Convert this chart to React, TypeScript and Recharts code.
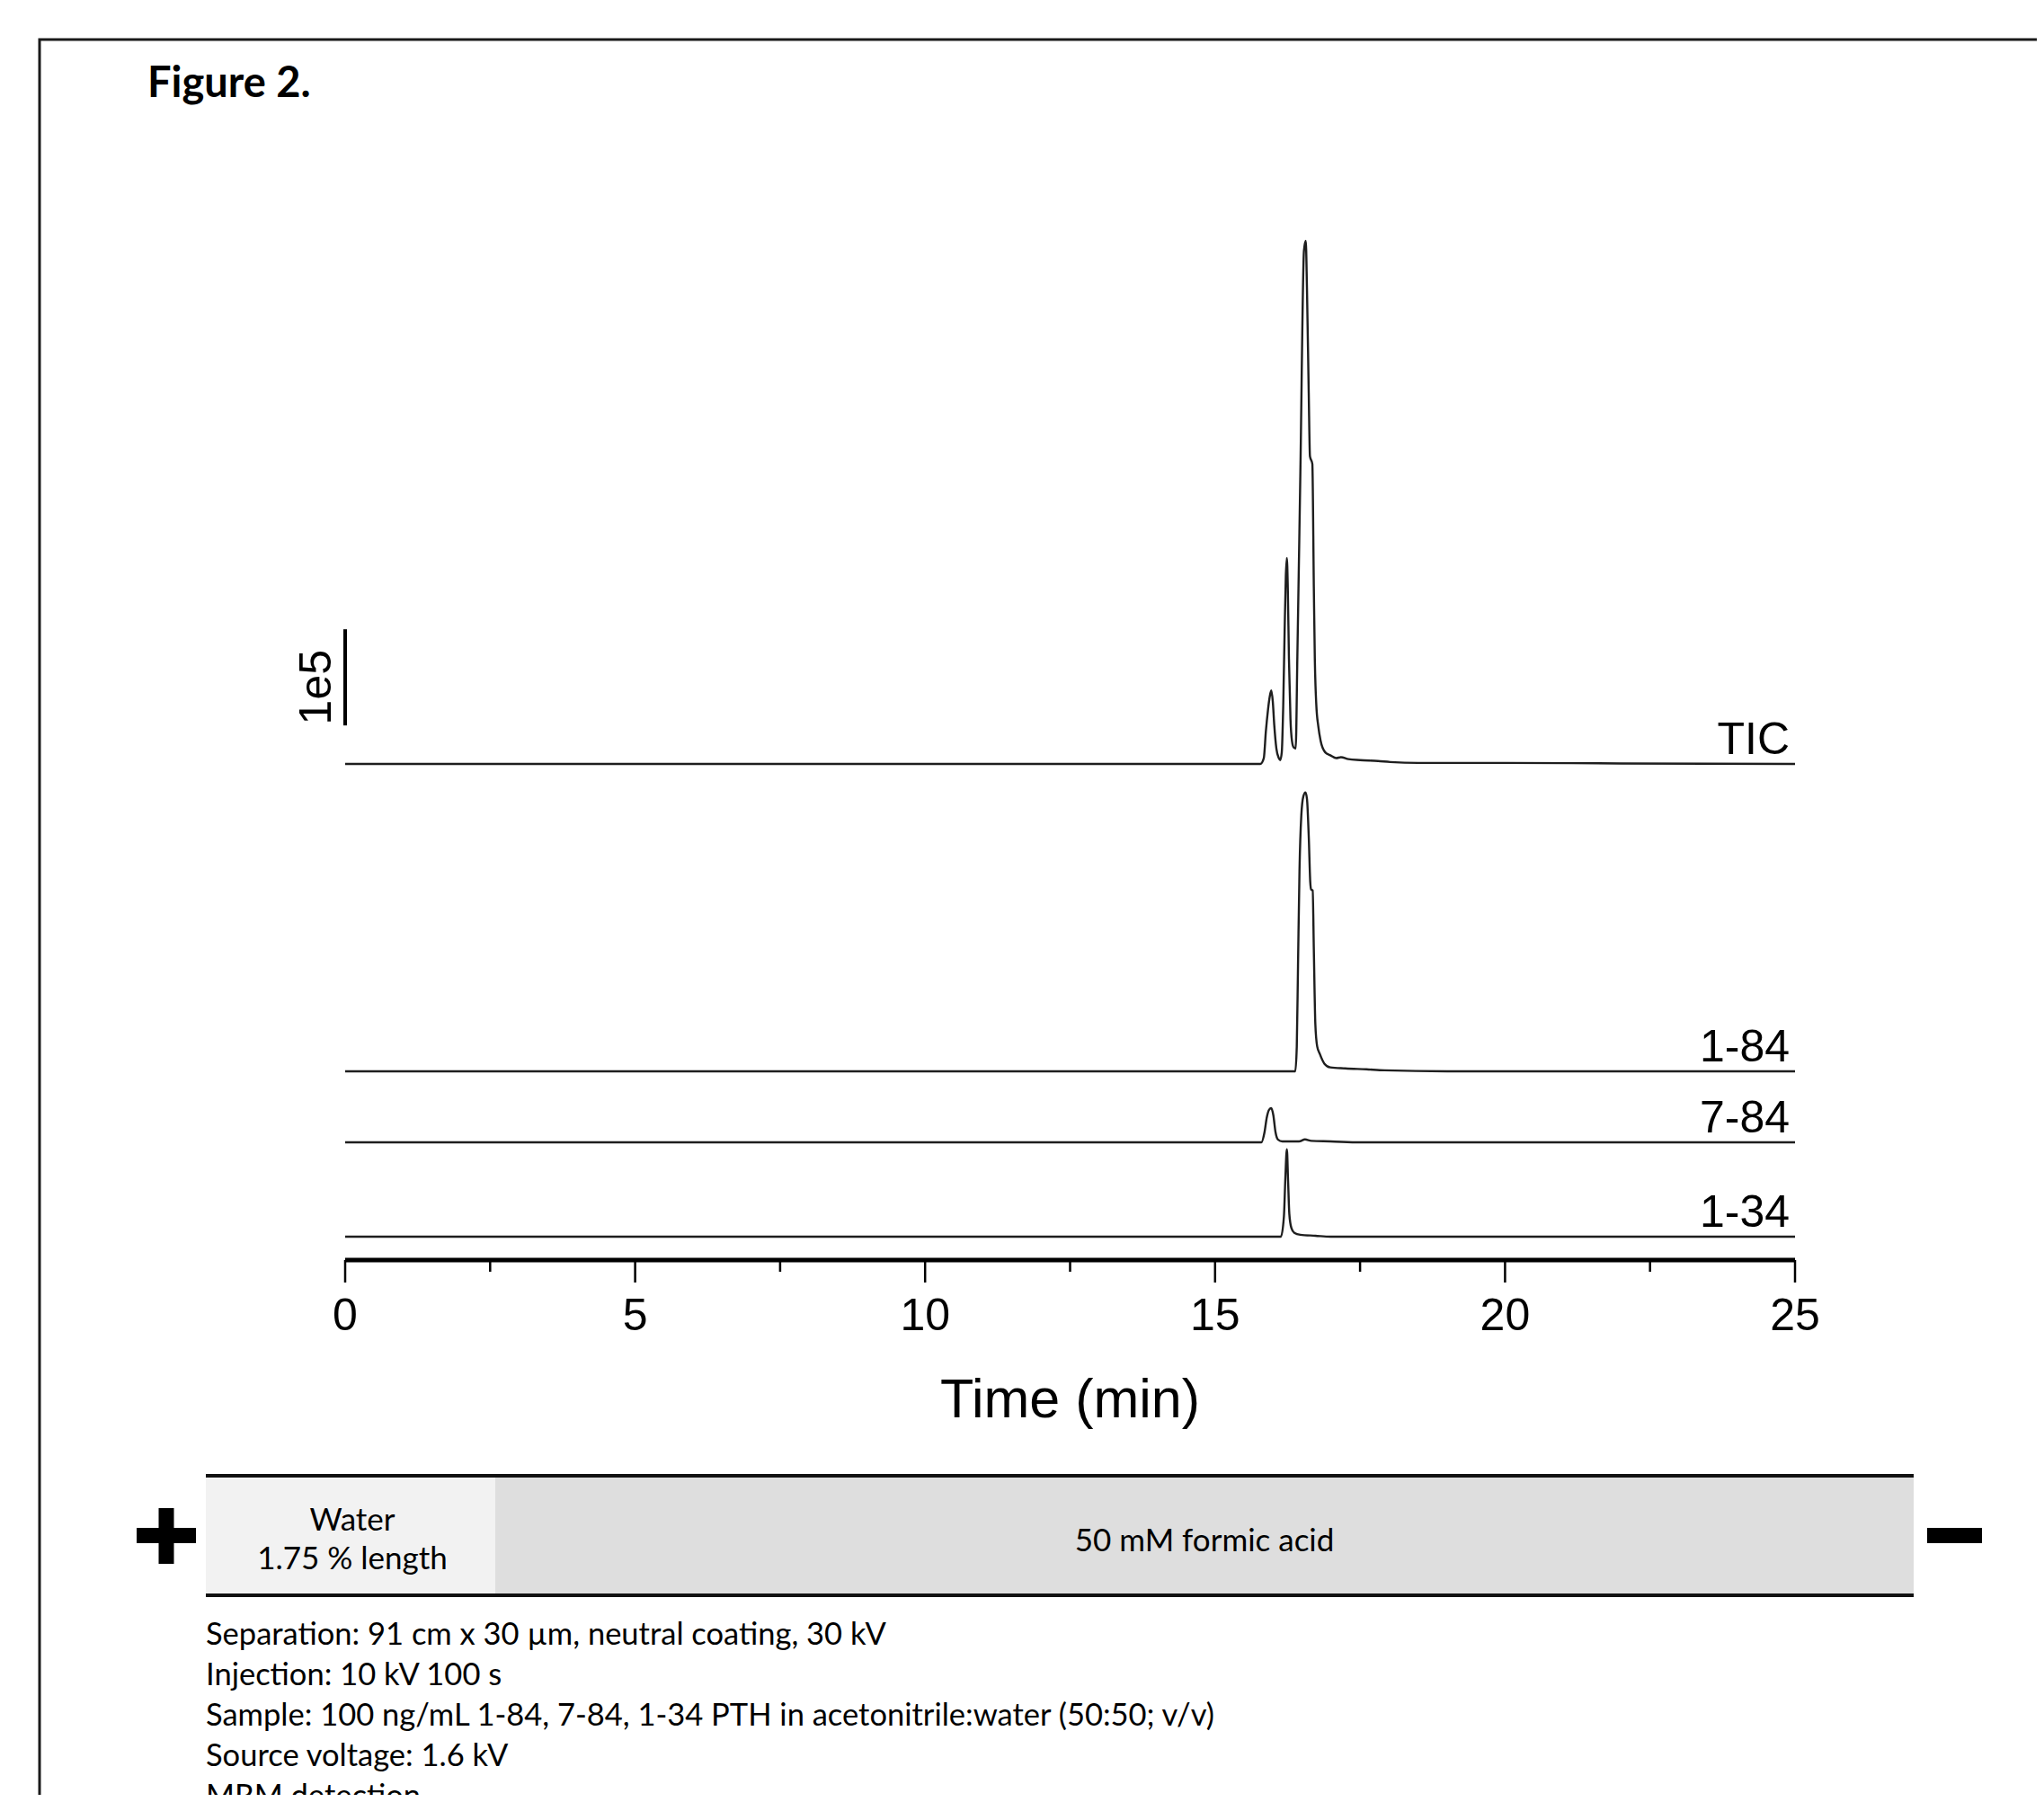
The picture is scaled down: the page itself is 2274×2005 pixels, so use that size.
import { LineChart, Line, XAxis, YAxis, ReferenceLine, Label } from "recharts";

// time (min), intensity (x1e5 counts)
const ticTrace: [number, number][] = [
  [0, 0], [15.78, 0], [15.84, 0.06], [15.876, 0.34], [15.912, 0.56], [15.943, 0.7], [15.969, 0.765],
  [15.995, 0.65], [16.021, 0.4], [16.057, 0.16], [16.099, 0.06], [16.124, 0.04], [16.15, 0.12],
  [16.175, 0.6], [16.2, 1.4], [16.22, 1.95], [16.238, 2.14], [16.254, 1.83], [16.274, 1.09],
  [16.3, 0.47], [16.326, 0.24], [16.357, 0.17], [16.39, 0.16], [16.419, 1.12], [16.471, 3.04],
  [16.533, 5.34], [16.564, 5.44], [16.584, 4.96], [16.615, 3.86], [16.636, 3.2], [16.677, 3.12],
  [16.703, 1.83], [16.72, 1.09], [16.745, 0.62], [16.78, 0.39], [16.82, 0.24], [16.9, 0.12],
  [16.987, 0.09], [17.09, 0.06], [17.17, 0.07], [17.3, 0.05], [17.5, 0.04], [17.81, 0.03],
  [18.02, 0.02], [18.5, 0.01], [20, 0.01], [22, 0.005], [25, 0],
];

const pth184Trace: [number, number][] = [
  [0, 0], [16.383, 0], [16.409, 0.26], [16.43, 1.09], [16.456, 2.1], [16.487, 2.66], [16.523, 2.86],
  [16.559, 2.9], [16.585, 2.83], [16.616, 2.43], [16.642, 1.96], [16.657, 1.89], [16.683, 1.88],
  [16.703, 1.26], [16.729, 0.49], [16.76, 0.26], [16.806, 0.18], [16.884, 0.08], [16.987, 0.04],
  [17.245, 0.03], [17.61, 0.02], [17.92, 0.01], [19, 0], [25, 0],
];

const pth784Trace: [number, number][] = [
  [0, 0], [15.799, 0], [15.851, 0.1], [15.892, 0.26], [15.933, 0.34], [15.969, 0.355], [16.005, 0.28],
  [16.041, 0.11], [16.083, 0.03], [16.16, 0.01], [16.45, 0.01], [16.55, 0.03], [16.66, 0.015],
  [16.99, 0.01], [17.5, 0], [25, 0],
];

const pth134Trace: [number, number][] = [
  [0, 0], [16.135, 0], [16.187, 0.21], [16.212, 0.61], [16.238, 0.91], [16.259, 0.58], [16.28, 0.24],
  [16.316, 0.09], [16.367, 0.04], [16.47, 0.02], [16.73, 0.01], [16.99, 0], [25, 0],
];

const traceNames = ["TIC", "1-84", "7-84", "1-34"];
const traceOffsets = [4.916, 1.72, 0.981, 0];
const traces = [ticTrace, pth184Trace, pth784Trace, pth134Trace];

const xTicks = [0, 2.5, 5, 7.5, 10, 12.5, 15, 17.5, 20, 22.5, 25];
const yDomain = [-0.243, 10.523];
const scaleBar = [0.4, 1.4]; // 1e5 bar, above TIC baseline

const infoLines = [
  "Separation: 91 cm x 30 µm, neutral coating, 30 kV",
  "Injection: 10 kV 100 s",
  "Sample: 100 ng/mL 1-84, 7-84, 1-34 PTH in acetonitrile:water (50:50; v/v)",
  "Source voltage: 1.6 kV",
  "MRM detection",
];

const ARIAL = "'Liberation Sans', Arial, sans-serif";
const BODY = "Lato, 'Open Sans', sans-serif";

const rows = traces.map((pts, i) => pts.map(([t, v]) => ({ t, v: v + traceOffsets[i] })));

function TimeTick(props: any) {
  const { x, y, payload } = props;
  const major = payload.value % 5 === 0;
  return (
    <g>
      <line x1={x} x2={x} y1={y} y2={y + (major ? 25 : 13)} stroke="#000" strokeWidth={2.5} />
      {major && (
        <text x={x} y={y + 78} textAnchor="middle" fontSize={50} fontFamily={ARIAL} fill="#000">
          {payload.value}
        </text>
      )}
    </g>
  );
}

function TimeTitle(props: any) {
  const vb = props.viewBox;
  return (
    <text x={vb.x + vb.width / 2} y={vb.y + 175} textAnchor="middle" fontSize={61} fontFamily={ARIAL} fill="#000">
      Time (min)
    </text>
  );
}

function TraceLabel(props: any) {
  const { viewBox, text } = props;
  return (
    <text x={viewBox.x + viewBox.width - 6} y={viewBox.y - 11} textAnchor="end" fontSize={50} fontFamily={ARIAL} fill="#000">
      {text}
    </text>
  );
}

function ScaleLabel(props: any) {
  const vb = props.viewBox;
  const cx = vb.x - 16;
  const cy = vb.y + vb.height / 2 + 11;
  return (
    <text x={cx} y={cy} transform={`rotate(-90, ${cx}, ${cy})`} textAnchor="middle" fontSize={50} fontFamily={ARIAL} fill="#000">
      1e5
    </text>
  );
}

export default function App() {
  return (
    <div style={{ position: "relative", width: 2274, height: 2005, margin: -8, overflow: "hidden", background: "#fff" }}>
      <svg width={2274} height={2005} style={{ position: "absolute", left: 0, top: 0 }}>
        <rect x={44} y={44} width={2400} height={2200} fill="none" stroke="#1a1a1a" strokeWidth={3} />
        <text x={164} y={108} fontFamily={BODY} fontWeight={700} fontSize={47} fill="#000">
          Figure 2.
        </text>
        <rect x={229} y={1642} width={322} height={133} fill="#f2f2f2" />
        <rect x={551} y={1642} width={1578} height={133} fill="#dedede" />
        <line x1={229} x2={2129} y1={1642} y2={1642} stroke="#111" strokeWidth={4} />
        <line x1={229} x2={2129} y1={1775} y2={1775} stroke="#111" strokeWidth={4} />
        <rect x={152} y={1700} width={66} height={17} fill="#000" />
        <rect x={176.5} y={1678} width={17} height={62} fill="#000" />
        <rect x={2144} y={1700} width={61} height={17} fill="#000" />
        <text x={392} y={1703} textAnchor="middle" fontFamily={BODY} fontSize={35} fill="#000">Water</text>
        <text x={392} y={1746} textAnchor="middle" fontFamily={BODY} fontSize={35} fill="#000">1.75 % length</text>
        <text x={1340} y={1726} textAnchor="middle" fontFamily={BODY} fontSize={35} fill="#000">50 mM formic acid</text>
        {infoLines.map((s, i) => (
          <text key={s} x={229} y={1830 + i * 45} fontFamily={BODY} fontSize={34.5} fill="#000">
            {s}
          </text>
        ))}
      </svg>
      <div style={{ position: "absolute", left: 0, top: 0 }}>
        <LineChart width={2274} height={1650} margin={{ top: 250, left: 384, right: 277, bottom: 48 }}>
          <XAxis
            type="number"
            dataKey="t"
            domain={[0, 25]}
            ticks={xTicks}
            interval={0}
            height={200}
            tickSize={0}
            tickMargin={0}
            tickLine={false}
            tick={<TimeTick />}
            axisLine={{ stroke: "#000", strokeWidth: 5 }}
          >
            <Label content={<TimeTitle />} />
          </XAxis>
          <YAxis hide type="number" domain={yDomain} allowDataOverflow />
          {rows.map((data, i) => (
            <Line
              key={traceNames[i]}
              data={data}
              dataKey="v"
              type="monotone"
              dot={false}
              stroke="#1e1e1e"
              strokeWidth={2.4}
              isAnimationActive={false}
            />
          ))}
          {traceNames.map((name, i) => (
            <ReferenceLine
              key={name}
              y={traceOffsets[i]}
              stroke="none"
              label={<TraceLabel text={name} />}
            />
          ))}
          <ReferenceLine
            segment={[
              { x: 0, y: traceOffsets[0] + scaleBar[0] },
              { x: 0, y: traceOffsets[0] + scaleBar[1] },
            ]}
            stroke="#000"
            strokeWidth={4}
            label={<ScaleLabel />}
          />
        </LineChart>
      </div>
    </div>
  );
}
